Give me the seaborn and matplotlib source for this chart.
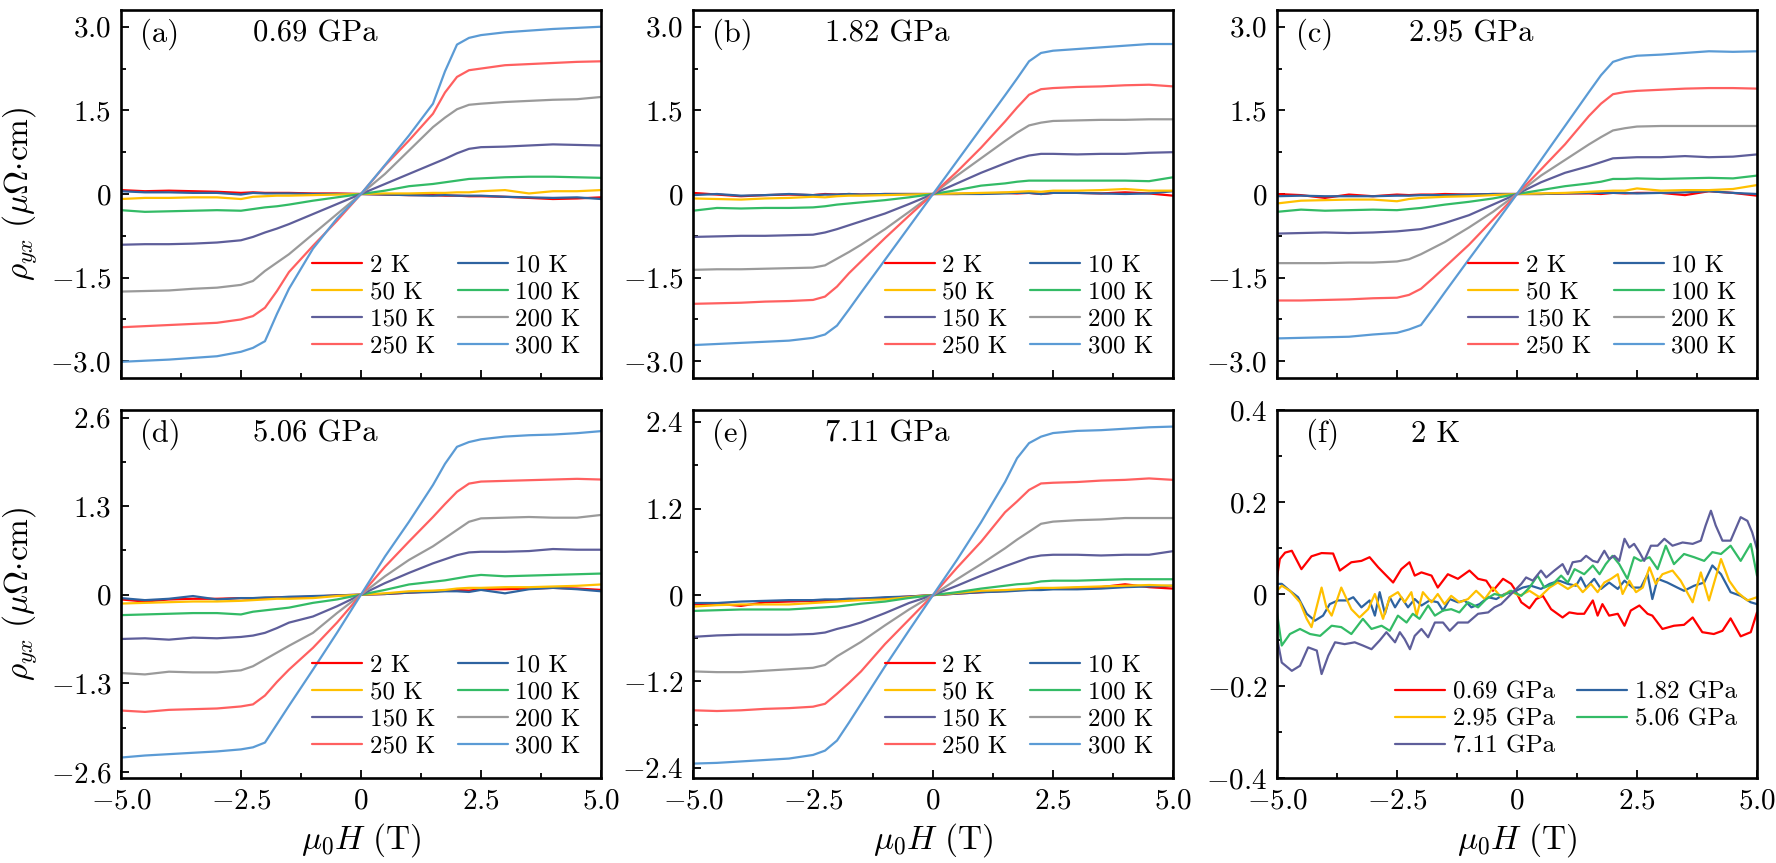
import matplotlib
matplotlib.use('Agg')
import matplotlib.pyplot as plt
import seaborn as sns
from matplotlib.ticker import FixedLocator, FixedFormatter

# =========================
# DATA
# =========================
# field grid (T) shared by panels (a)-(e)
H = [-5, -4.5, -4, -3.5, -3, -2.5, -2.25, -2, -1.75, -1.5, -1, -0.5, 0,
     0.5, 1, 1.5, 1.75, 2, 2.25, 2.5, 3, 3.5, 4, 4.5, 5]

temps = ['2 K', '10 K', '50 K', '100 K', '150 K', '200 K', '250 K', '300 K']
temp_colors = ['#FF0000', '#2E63A0', '#FFC000', '#33BB66',
               '#5E5E9A', '#9A9A9A', '#FF6060', '#5B9BD5']

# rho_yx (uOhm cm), one row per temperature, same order as temps
rho_a = [
    [0.07, 0.05, 0.06, 0.05, 0.04, 0.02, 0.03, 0.02, 0.02, 0.02, 0.01, 0.01, 0, -0.01, -0.02, -0.02, -0.03, -0.03, -0.04, -0.04, -0.05, -0.07, -0.09, -0.08, -0.06],
    [0.05, 0.03, 0.03, 0.02, 0.02, -0.01, 0.02, 0.01, 0.01, 0.01, 0.0, 0.0, 0, -0.01, -0.02, -0.03, -0.02, -0.03, -0.03, -0.03, -0.05, -0.06, -0.07, -0.06, -0.09],
    [-0.09, -0.07, -0.07, -0.06, -0.06, -0.09, -0.05, -0.04, -0.03, -0.03, -0.02, -0.01, 0, 0.01, 0.01, 0.02, 0.02, 0.03, 0.03, 0.05, 0.07, 0.01, 0.05, 0.05, 0.07],
    [-0.29, -0.32, -0.31, -0.30, -0.29, -0.30, -0.27, -0.24, -0.22, -0.19, -0.12, -0.06, 0, 0.06, 0.14, 0.18, 0.21, 0.24, 0.27, 0.28, 0.30, 0.31, 0.31, 0.30, 0.29],
    [-0.91, -0.90, -0.90, -0.89, -0.87, -0.83, -0.77, -0.69, -0.62, -0.54, -0.36, -0.18, 0, 0.18, 0.36, 0.54, 0.63, 0.73, 0.81, 0.84, 0.85, 0.87, 0.89, 0.88, 0.87],
    [-1.75, -1.74, -1.73, -1.70, -1.68, -1.63, -1.56, -1.38, -1.23, -1.08, -0.72, -0.36, 0, 0.36, 0.78, 1.20, 1.37, 1.52, 1.60, 1.62, 1.65, 1.67, 1.69, 1.70, 1.74],
    [-2.39, -2.37, -2.35, -2.33, -2.31, -2.25, -2.19, -2.04, -1.74, -1.40, -0.93, -0.48, 0, 0.51, 0.96, 1.44, 1.82, 2.10, 2.22, 2.25, 2.31, 2.33, 2.35, 2.37, 2.38],
    [-3.01, -2.99, -2.97, -2.94, -2.91, -2.83, -2.76, -2.64, -2.15, -1.70, -0.98, -0.44, 0, 0.52, 1.05, 1.62, 2.20, 2.68, 2.80, 2.85, 2.90, 2.93, 2.96, 2.98, 3.00],
]
rho_b = [
    [0.02, -0.01, -0.04, -0.02, -0.01, -0.02, 0.0, -0.01, 0.0, -0.01, 0.0, 0.0, 0, 0.0, 0.01, 0.02, 0.01, 0.02, 0.0, 0.02, 0.02, 0.01, 0.03, 0.01, -0.03],
    [-0.02, 0.0, -0.03, -0.02, 0.0, -0.02, -0.01, -0.01, 0.0, -0.01, 0.0, 0.0, 0, 0.0, 0.0, 0.01, 0.02, 0.02, 0.0, 0.02, 0.02, 0.01, 0.0, 0.01, 0.05],
    [-0.08, -0.09, -0.10, -0.08, -0.07, -0.05, -0.06, -0.04, -0.03, -0.03, -0.02, -0.01, 0, 0.01, 0.02, 0.03, 0.04, 0.05, 0.04, 0.06, 0.06, 0.07, 0.09, 0.06, 0.06],
    [-0.30, -0.25, -0.26, -0.25, -0.25, -0.24, -0.22, -0.19, -0.17, -0.15, -0.11, -0.06, 0, 0.07, 0.15, 0.19, 0.22, 0.24, 0.24, 0.24, 0.24, 0.24, 0.24, 0.23, 0.30],
    [-0.77, -0.76, -0.75, -0.75, -0.74, -0.73, -0.69, -0.63, -0.56, -0.49, -0.35, -0.18, 0, 0.19, 0.38, 0.55, 0.63, 0.69, 0.72, 0.72, 0.71, 0.72, 0.72, 0.74, 0.75],
    [-1.36, -1.35, -1.35, -1.34, -1.33, -1.32, -1.28, -1.16, -1.04, -0.91, -0.63, -0.32, 0, 0.33, 0.64, 0.95, 1.10, 1.23, 1.28, 1.31, 1.32, 1.33, 1.33, 1.34, 1.34],
    [-1.97, -1.96, -1.95, -1.93, -1.92, -1.90, -1.84, -1.66, -1.42, -1.21, -0.79, -0.39, 0, 0.40, 0.83, 1.30, 1.55, 1.78, 1.88, 1.90, 1.92, 1.93, 1.95, 1.96, 1.93],
    [-2.71, -2.69, -2.67, -2.65, -2.63, -2.58, -2.52, -2.36, -2.07, -1.77, -1.18, -0.59, 0, 0.59, 1.18, 1.77, 2.07, 2.38, 2.53, 2.57, 2.60, 2.63, 2.66, 2.69, 2.69],
]
rho_c = [
    [0.0, -0.02, -0.07, -0.01, -0.04, -0.01, -0.02, -0.01, -0.01, 0.0, -0.01, 0.0, 0, 0.0, 0.01, 0.01, 0.0, 0.02, 0.01, 0.02, 0.02, -0.02, 0.05, 0.02, -0.03],
    [-0.04, -0.03, -0.04, -0.04, -0.04, -0.03, -0.03, -0.02, -0.02, -0.02, -0.01, 0.0, 0, 0.0, 0.01, 0.02, 0.02, 0.02, 0.02, 0.01, 0.02, 0.03, 0.05, 0.02, 0.0],
    [-0.17, -0.12, -0.11, -0.10, -0.10, -0.13, -0.09, -0.07, -0.06, -0.05, -0.04, -0.02, 0, 0.01, 0.02, 0.04, 0.05, 0.06, 0.06, 0.10, 0.06, 0.07, 0.07, 0.09, 0.16],
    [-0.32, -0.28, -0.30, -0.29, -0.28, -0.29, -0.27, -0.25, -0.22, -0.19, -0.14, -0.08, 0, 0.07, 0.14, 0.19, 0.22, 0.27, 0.27, 0.28, 0.27, 0.28, 0.29, 0.28, 0.33],
    [-0.71, -0.70, -0.69, -0.70, -0.69, -0.67, -0.65, -0.63, -0.58, -0.52, -0.38, -0.19, 0, 0.21, 0.38, 0.50, 0.57, 0.64, 0.65, 0.66, 0.66, 0.68, 0.66, 0.67, 0.71],
    [-1.24, -1.24, -1.24, -1.23, -1.23, -1.21, -1.17, -1.08, -0.97, -0.86, -0.60, -0.32, 0, 0.33, 0.61, 0.89, 1.02, 1.14, 1.18, 1.21, 1.22, 1.22, 1.22, 1.22, 1.22],
    [-1.91, -1.91, -1.90, -1.89, -1.87, -1.86, -1.81, -1.70, -1.51, -1.31, -0.91, -0.46, 0, 0.44, 0.89, 1.40, 1.62, 1.79, 1.83, 1.85, 1.87, 1.89, 1.90, 1.90, 1.89],
    [-2.59, -2.58, -2.57, -2.56, -2.52, -2.49, -2.43, -2.35, -2.06, -1.76, -1.17, -0.59, 0, 0.61, 1.22, 1.83, 2.13, 2.37, 2.44, 2.48, 2.50, 2.53, 2.56, 2.55, 2.56],
]
rho_d = [
    [-0.07, -0.10, -0.07, -0.06, -0.06, -0.05, -0.06, -0.05, -0.04, -0.04, -0.03, -0.01, 0, 0.01, 0.03, 0.05, 0.06, 0.07, 0.06, 0.08, 0.08, 0.09, 0.10, 0.09, 0.07],
    [-0.05, -0.08, -0.06, -0.02, -0.07, -0.05, -0.05, -0.04, -0.04, -0.03, -0.02, -0.01, 0, 0.01, 0.03, 0.04, 0.05, 0.05, 0.04, 0.07, 0.02, 0.08, 0.10, 0.08, 0.05],
    [-0.13, -0.12, -0.11, -0.10, -0.10, -0.09, -0.08, -0.07, -0.06, -0.06, -0.05, -0.02, 0, 0.02, 0.05, 0.06, 0.07, 0.09, 0.10, 0.10, 0.11, 0.11, 0.12, 0.13, 0.15],
    [-0.30, -0.29, -0.28, -0.27, -0.27, -0.29, -0.25, -0.23, -0.21, -0.19, -0.12, -0.07, 0, 0.07, 0.15, 0.19, 0.21, 0.24, 0.27, 0.29, 0.27, 0.28, 0.29, 0.30, 0.31],
    [-0.65, -0.64, -0.66, -0.63, -0.64, -0.62, -0.60, -0.56, -0.49, -0.41, -0.32, -0.17, 0, 0.17, 0.32, 0.46, 0.52, 0.58, 0.62, 0.63, 0.63, 0.64, 0.67, 0.66, 0.66],
    [-1.15, -1.17, -1.13, -1.14, -1.14, -1.11, -1.05, -0.95, -0.85, -0.75, -0.56, -0.27, 0, 0.27, 0.51, 0.71, 0.83, 0.95, 1.07, 1.12, 1.13, 1.14, 1.13, 1.13, 1.17],
    [-1.70, -1.72, -1.69, -1.68, -1.67, -1.64, -1.61, -1.48, -1.28, -1.10, -0.78, -0.41, 0, 0.41, 0.78, 1.14, 1.33, 1.51, 1.63, 1.66, 1.67, 1.68, 1.69, 1.70, 1.69],
    [-2.39, -2.36, -2.34, -2.32, -2.30, -2.27, -2.24, -2.17, -1.90, -1.63, -1.10, -0.56, 0, 0.56, 1.07, 1.61, 1.92, 2.17, 2.24, 2.28, 2.32, 2.34, 2.35, 2.37, 2.40],
]
rho_e = [
    [-0.13, -0.12, -0.15, -0.10, -0.09, -0.08, -0.08, -0.07, -0.06, -0.05, -0.04, -0.02, 0, 0.02, 0.04, 0.06, 0.07, 0.08, 0.09, 0.09, 0.10, 0.11, 0.15, 0.11, 0.09],
    [-0.11, -0.11, -0.09, -0.08, -0.07, -0.07, -0.06, -0.06, -0.05, -0.05, -0.03, -0.02, 0, 0.02, 0.04, 0.05, 0.06, 0.07, 0.07, 0.08, 0.08, 0.09, 0.11, 0.12, 0.13],
    [-0.16, -0.14, -0.13, -0.13, -0.13, -0.11, -0.10, -0.09, -0.08, -0.07, -0.06, -0.03, 0, 0.03, 0.06, 0.07, 0.08, 0.09, 0.10, 0.10, 0.11, 0.12, 0.13, 0.14, 0.13],
    [-0.22, -0.21, -0.20, -0.20, -0.20, -0.18, -0.17, -0.16, -0.14, -0.12, -0.09, -0.04, 0, 0.04, 0.09, 0.13, 0.15, 0.16, 0.19, 0.20, 0.20, 0.21, 0.22, 0.22, 0.22],
    [-0.58, -0.56, -0.55, -0.55, -0.55, -0.54, -0.52, -0.47, -0.43, -0.38, -0.25, -0.11, 0, 0.13, 0.27, 0.40, 0.46, 0.52, 0.55, 0.56, 0.56, 0.55, 0.56, 0.56, 0.61],
    [-1.06, -1.07, -1.07, -1.05, -1.03, -1.01, -0.97, -0.85, -0.75, -0.65, -0.42, -0.20, 0, 0.22, 0.43, 0.65, 0.77, 0.88, 0.99, 1.02, 1.04, 1.05, 1.07, 1.07, 1.07],
    [-1.60, -1.61, -1.60, -1.58, -1.57, -1.55, -1.51, -1.37, -1.22, -1.06, -0.68, -0.34, 0, 0.38, 0.74, 1.15, 1.30, 1.46, 1.55, 1.56, 1.57, 1.59, 1.60, 1.62, 1.60],
    [-2.34, -2.33, -2.31, -2.29, -2.27, -2.22, -2.16, -2.02, -1.77, -1.51, -0.99, -0.49, 0, 0.49, 1.01, 1.57, 1.90, 2.11, 2.20, 2.25, 2.28, 2.29, 2.31, 2.33, 2.34],
]

# panel (f): 2 K curves at each pressure, (H, rho) pairs
pressures = ['0.69 GPa', '1.82 GPa', '2.95 GPa', '5.06 GPa', '7.11 GPa']
pressure_colors = ['#FF0000', '#2E63A0', '#FFC000', '#33BB66', '#5E5E9A']

f_069 = [(-5.0, 0.036), (-4.94, 0.076), (-4.83, 0.09), (-4.69, 0.094), (-4.49, 0.054), (-4.28, 0.082),
         (-4.07, 0.089), (-3.83, 0.088), (-3.69, 0.051), (-3.45, 0.069), (-3.24, 0.072), (-3.07, 0.08),
         (-2.89, 0.058), (-2.58, 0.025), (-2.41, 0.054), (-2.24, 0.069), (-2.13, 0.04), (-1.99, 0.047),
         (-1.78, 0.04), (-1.65, 0.014), (-1.44, 0.043), (-1.23, 0.033), (-0.99, 0.051), (-0.81, 0.033),
         (-0.64, 0.029), (-0.50, 0.007), (-0.29, 0.033), (-0.12, 0.022), (-0.05, 0.011), (0.09, -0.018),
         (0.26, -0.031), (0.40, -0.011), (0.54, -0.004), (0.71, -0.033), (0.95, -0.051), (1.09, -0.04),
         (1.26, -0.043), (1.40, -0.043), (1.58, -0.014), (1.68, -0.047), (1.78, -0.022), (1.92, -0.047),
         (2.10, -0.043), (2.24, -0.069), (2.37, -0.036), (2.55, -0.025), (2.72, -0.043), (2.82, -0.047),
         (3.03, -0.076), (3.27, -0.069), (3.48, -0.067), (3.66, -0.051), (3.86, -0.083), (4.10, -0.087),
         (4.28, -0.080), (4.45, -0.053), (4.66, -0.092), (4.87, -0.083), (5.0, -0.04)]
f_182 = [(-5.0, 0.022), (-4.90, 0.022), (-4.73, 0.007), (-4.56, -0.007), (-4.38, -0.043), (-4.21, -0.058),
         (-4.04, -0.047), (-3.90, -0.022), (-3.73, -0.014), (-3.55, -0.014), (-3.41, -0.007), (-3.24, -0.029),
         (-3.07, -0.014), (-2.96, -0.047), (-2.86, 0.004), (-2.75, -0.043), (-2.65, -0.007), (-2.54, -0.029),
         (-2.41, -0.007), (-2.27, -0.029), (-2.13, -0.011), (-1.99, -0.025), (-1.82, -0.014), (-1.65, -0.018),
         (-1.54, -0.036), (-1.40, -0.011), (-1.23, -0.018), (-1.09, -0.014), (-0.95, -0.029), (-0.78, -0.022),
         (-0.60, -0.007), (-0.43, -0.011), (-0.26, 0.0), (-0.08, 0.004), (0.12, 0.014), (0.29, 0.018),
         (0.50, 0.011), (0.68, 0.022), (0.88, 0.029), (1.06, 0.022), (1.23, 0.018), (1.33, 0.036),
         (1.44, 0.014), (1.61, 0.033), (1.75, 0.011), (1.92, 0.025), (2.10, 0.011), (2.24, 0.029),
         (2.41, 0.014), (2.58, 0.014), (2.72, 0.043), (2.82, -0.011), (2.93, 0.033), (3.13, 0.025),
         (3.34, 0.014), (3.48, 0.007), (3.69, 0.018), (3.90, 0.025), (4.07, 0.062), (4.25, 0.043),
         (4.45, 0.004), (4.66, -0.004), (4.87, -0.018), (5.0, -0.022)]
f_295 = [(-5.0, 0.007), (-4.90, 0.018), (-4.73, 0.007), (-4.52, -0.018), (-4.38, -0.054), (-4.28, -0.072),
         (-4.07, 0.014), (-3.97, -0.029), (-3.86, -0.047), (-3.66, 0.014), (-3.45, -0.033), (-3.28, -0.051),
         (-3.10, -0.033), (-2.96, 0.0), (-2.79, -0.054), (-2.65, -0.007), (-2.48, 0.004), (-2.34, -0.018),
         (-2.20, 0.004), (-2.09, -0.047), (-1.96, 0.004), (-1.78, -0.018), (-1.65, 0.0), (-1.51, -0.022),
         (-1.37, -0.004), (-1.20, -0.018), (-1.02, -0.011), (-0.85, 0.007), (-0.67, -0.011), (-0.50, 0.014),
         (-0.33, -0.007), (-0.15, 0.007), (0.05, -0.004), (0.26, 0.007), (0.47, -0.007), (0.68, 0.014),
         (0.85, 0.025), (1.06, 0.011), (1.23, 0.022), (1.37, 0.004), (1.54, 0.022), (1.68, 0.004),
         (1.82, 0.025), (1.96, 0.033), (2.10, 0.043), (2.20, 0.0), (2.34, 0.029), (2.48, 0.004),
         (2.62, 0.014), (2.76, 0.058), (2.89, 0.022), (3.03, 0.043), (3.24, 0.051), (3.41, 0.029),
         (3.66, -0.018), (3.83, 0.047), (4.00, -0.014), (4.25, 0.076), (4.42, 0.029), (4.59, 0.004),
         (4.80, -0.014), (5.0, -0.007)]
f_506 = [(-5.0, -0.040), (-4.90, -0.112), (-4.73, -0.087), (-4.52, -0.076), (-4.31, -0.087), (-4.10, -0.091),
         (-3.86, -0.069), (-3.66, -0.072), (-3.45, -0.087), (-3.21, -0.054), (-3.03, -0.076), (-2.82, -0.069),
         (-2.65, -0.080), (-2.48, -0.047), (-2.30, -0.062), (-2.17, -0.043), (-2.03, -0.054), (-1.85, -0.025),
         (-1.71, -0.047), (-1.54, -0.036), (-1.37, -0.033), (-1.20, -0.040), (-1.02, -0.018), (-0.81, -0.029),
         (-0.64, -0.011), (-0.47, 0.0), (-0.29, -0.004), (-0.12, 0.007), (0.09, -0.004), (0.26, 0.014),
         (0.43, 0.040), (0.57, 0.014), (0.75, 0.022), (0.92, 0.040), (1.06, 0.025), (1.20, 0.054),
         (1.40, 0.043), (1.58, 0.062), (1.72, 0.043), (1.85, 0.065), (1.99, 0.083), (2.13, 0.065),
         (2.30, 0.033), (2.44, 0.080), (2.58, 0.072), (2.76, 0.080), (2.93, 0.054), (3.10, 0.105),
         (3.27, 0.065), (3.48, 0.087), (3.69, 0.080), (3.90, 0.072), (4.07, 0.091), (4.25, 0.087),
         (4.45, 0.105), (4.66, 0.072), (4.87, 0.109), (5.0, 0.040)]
f_711 = [(-5.0, -0.094), (-4.90, -0.149), (-4.69, -0.167), (-4.52, -0.156), (-4.35, -0.116), (-4.17, -0.123),
         (-4.07, -0.174), (-3.93, -0.134), (-3.79, -0.105), (-3.59, -0.109), (-3.38, -0.105), (-3.21, -0.112),
         (-3.03, -0.120), (-2.86, -0.101), (-2.72, -0.083), (-2.54, -0.105), (-2.44, -0.083), (-2.34, -0.098),
         (-2.23, -0.120), (-2.13, -0.091), (-1.99, -0.076), (-1.85, -0.094), (-1.71, -0.062), (-1.54, -0.062),
         (-1.40, -0.080), (-1.23, -0.062), (-1.02, -0.062), (-0.81, -0.043), (-0.60, -0.040), (-0.47, -0.029),
         (-0.33, -0.022), (-0.12, 0.0), (0.09, 0.022), (0.19, 0.036), (0.33, 0.029), (0.50, 0.051),
         (0.61, 0.036), (0.78, 0.051), (0.95, 0.065), (1.06, 0.043), (1.16, 0.069), (1.33, 0.072),
         (1.44, 0.083), (1.58, 0.072), (1.68, 0.069), (1.82, 0.094), (1.92, 0.076), (2.03, 0.083),
         (2.13, 0.072), (2.24, 0.120), (2.34, 0.101), (2.44, 0.109), (2.55, 0.091), (2.65, 0.072),
         (2.79, 0.105), (2.93, 0.105), (3.07, 0.120), (3.24, 0.105), (3.45, 0.112), (3.66, 0.109),
         (3.83, 0.116), (3.93, 0.149), (4.04, 0.181), (4.14, 0.149), (4.28, 0.116), (4.45, 0.116),
         (4.66, 0.167), (4.80, 0.159), (4.90, 0.134), (5.0, 0.098)]

x_ticks = [-5, -2.5, 0, 2.5, 5]
x_ticklabels = ['-5.0', '-2.5', '0', '2.5', '5.0']


# =========================
# STYLE
# =========================
sns.set_style('ticks')
plt.rcParams['font.family'] = ['cmr10', 'DejaVu Serif']
plt.rcParams['mathtext.fontset'] = 'cm'
plt.rcParams['axes.unicode_minus'] = False
plt.rcParams['axes.linewidth'] = 1.9
plt.rcParams['axes.edgecolor'] = 'black'
plt.rcParams['xtick.color'] = 'black'
plt.rcParams['ytick.color'] = 'black'
plt.rcParams['text.color'] = 'black'
plt.rcParams['axes.labelcolor'] = 'black'

TICK_FS = 21
LEG_FS = 18
ANN_FS = 22
LAB_FS = 24


def mt(s):
    # tick label as mathtext so the minus sign renders in Computer Modern
    return '$' + s + '$'


def style_axes(ax, yticks, ylim, show_x):
    ax.set_xlim(-5, 5)
    ax.set_ylim(*ylim)
    ax.xaxis.set_major_locator(FixedLocator(x_ticks))
    ax.xaxis.set_minor_locator(FixedLocator([-3.75, -1.25, 1.25, 3.75]))
    if show_x:
        ax.xaxis.set_major_formatter(FixedFormatter([mt(t) for t in x_ticklabels]))
    else:
        ax.xaxis.set_major_formatter(FixedFormatter([''] * 5))
    ax.yaxis.set_major_locator(FixedLocator(yticks))
    minor = [(yticks[i] + yticks[i + 1]) / 2 for i in range(len(yticks) - 1)]
    ax.yaxis.set_minor_locator(FixedLocator(minor))
    ylabels = [mt('0') if t == 0 else mt(f'{t:.1f}') for t in yticks]
    ax.yaxis.set_major_formatter(FixedFormatter(ylabels))
    ax.tick_params(which='both', direction='in', top=False, right=False,
                   labelsize=TICK_FS, width=1.3, pad=7)
    ax.tick_params(which='major', length=6)
    ax.tick_params(which='minor', length=3.5)
    for sp in ax.spines.values():
        sp.set_linewidth(1.9)
        sp.set_visible(True)


def add_legend(ax, order):
    handles, labels = ax.get_legend_handles_labels()
    handles = [handles[i] for i in order]
    labels = [labels[i] for i in order]
    ax.legend(handles, labels, ncol=2, loc='lower right', frameon=False,
              fontsize=LEG_FS, handlelength=2.0, handletextpad=0.3,
              columnspacing=0.9, labelspacing=0.18, borderaxespad=0.4)


# =========================
# FIGURE
# =========================
fig = plt.figure(figsize=(17.76, 8.63), dpi=100)

col_x = [0.0681, 0.3902, 0.7190]
row_y = [0.5620, 0.0985]
w, h = 0.2703, 0.4264

panels = [
    ('(a)', '0.69 GPa', rho_a, [-3, -1.5, 0, 1.5, 3], (-3.3, 3.3), 0, 0),
    ('(b)', '1.82 GPa', rho_b, [-3, -1.5, 0, 1.5, 3], (-3.3, 3.3), 0, 1),
    ('(c)', '2.95 GPa', rho_c, [-3, -1.5, 0, 1.5, 3], (-3.3, 3.3), 0, 2),
    ('(d)', '5.06 GPa', rho_d, [-2.6, -1.3, 0, 1.3, 2.6], (-2.69, 2.71), 1, 0),
    ('(e)', '7.11 GPa', rho_e, [-2.4, -1.2, 0, 1.2, 2.4], (-2.54, 2.57), 1, 1),
]

ylab = r'$\rho_{yx}\ \mathrm{(\mu\Omega{\cdot}cm)}$'
xlab = r'$\mu_0H\ \mathrm{(T)}$'

for tag, title, rho, yt, yl, r, c in panels:
    ax = fig.add_axes([col_x[c], row_y[r], w, h])
    for t, col, vals in zip(temps, temp_colors, rho):
        sns.lineplot(x=H, y=vals, ax=ax, color=col, lw=1.6, label=t)
    style_axes(ax, yt, yl, show_x=(r == 1))
    add_legend(ax, [0, 2, 4, 6, 1, 3, 5, 7])
    ax.text(0.04, 0.935, tag, transform=ax.transAxes, fontsize=ANN_FS, va='center')
    ax.text(0.275, 0.935, title, transform=ax.transAxes, fontsize=ANN_FS, va='center')
    ax.set_xlabel(xlab if r == 1 else '', fontsize=LAB_FS, labelpad=5)
    if c == 0:
        ax.set_ylabel(ylab, fontsize=LAB_FS, labelpad=8)
    else:
        ax.set_ylabel('')

# panel (f)
ax = fig.add_axes([col_x[2], row_y[1], w, h])
for p, col, pts in zip(pressures, pressure_colors, [f_069, f_182, f_295, f_506, f_711]):
    xs = [q[0] for q in pts]
    ys = [q[1] for q in pts]
    sns.lineplot(x=xs, y=ys, ax=ax, color=col, lw=1.6, label=p, sort=False)
style_axes(ax, [-0.4, -0.2, 0, 0.2, 0.4], (-0.4, 0.4), show_x=True)
add_legend(ax, [0, 2, 4, 1, 3])
ax.text(0.06, 0.935, '(f)', transform=ax.transAxes, fontsize=ANN_FS, va='center')
ax.text(0.279, 0.935, '2 K', transform=ax.transAxes, fontsize=ANN_FS, va='center')
ax.set_xlabel(xlab, fontsize=LAB_FS, labelpad=5)
ax.set_ylabel('')

fig.savefig('out.png', dpi=100)
